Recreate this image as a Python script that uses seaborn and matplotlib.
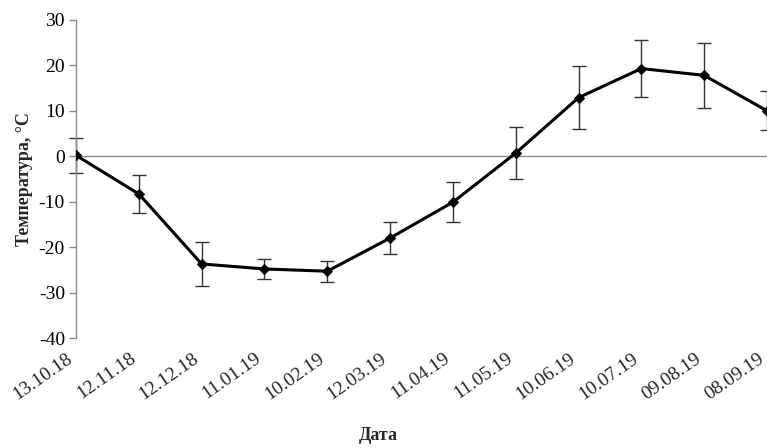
import matplotlib
matplotlib.use("Agg")
import matplotlib.pyplot as plt
import matplotlib.transforms as mtransforms
import seaborn as sns
import pandas as pd

# даты измерений и средняя температура с погрешностью
dates = ["13.10.18", "12.11.18", "12.12.18", "11.01.19", "10.02.19", "12.03.19",
         "11.04.19", "11.05.19", "10.06.19", "10.07.19", "09.08.19", "08.09.19"]
temps = [0.2, -8.3, -23.7, -24.8, -25.3, -18.0, -10.1, 0.7, 12.9, 19.3, 17.8, 10.0]
errs = [3.8, 4.2, 4.8, 2.2, 2.3, 3.5, 4.4, 5.7, 7.0, 6.3, 7.1, 4.3]

df = pd.DataFrame({"Дата": dates, "Температура": temps, "err": errs})

sns.set_style("white")
plt.rcParams["font.family"] = ["Liberation Serif", "DejaVu Serif"]
plt.rcParams["axes.unicode_minus"] = False

fig = plt.figure(figsize=(7.67, 4.48), dpi=100)
ax = fig.add_axes([0.0991, 0.2455, 0.9009, 0.71])

# горизонтальная линия нуля
ax.axhline(0, color="#8c8c8c", lw=1, zorder=1)

# погрешности
ax.errorbar(df["Дата"], df["Температура"], yerr=df["err"], fmt="none",
            ecolor="#333333", elinewidth=1, capsize=5, capthick=1, zorder=2, clip_on=False)

# основная линия
sns.lineplot(data=df, x="Дата", y="Температура", color="black", lw=2.2,
             marker="D", markersize=5, markeredgecolor="black", sort=False, ax=ax, zorder=3)

ax.set_xlim(0, len(dates) - 1)
ax.set_ylim(-40, 30)
ax.set_yticks(range(-40, 31, 10))

for s in ["top", "right", "bottom"]:
    ax.spines[s].set_visible(False)
ax.spines["left"].set_color("#8c8c8c")
ax.spines["left"].set_linewidth(1)

ax.tick_params(axis="y", left=True, length=5, width=1, color="#8c8c8c",
               labelsize=14, labelcolor="black", pad=3)
ax.tick_params(axis="x", bottom=False, labelsize=14, pad=10)

ax.set_xticks(range(len(dates)))
ax.set_xticklabels(dates, rotation=35, ha="right", va="center", rotation_mode="anchor")
shift = mtransforms.ScaledTranslation(-5 / 100, 0, fig.dpi_scale_trans)
for lbl in ax.get_xticklabels():
    lbl.set_transform(lbl.get_transform() + shift)

ax.set_xlabel("")
ax.set_ylabel("Температура, °C", fontsize=13, fontweight="bold", labelpad=4)
fig.text(0.493, 0.01, "Дата", ha="center", va="bottom", fontsize=13, fontweight="bold")

fig.savefig("out.png", dpi=100)
